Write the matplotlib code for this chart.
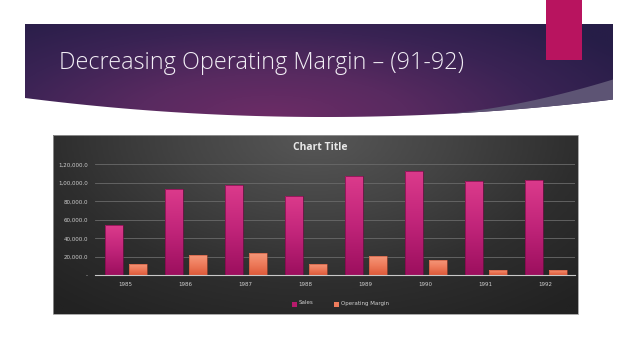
import numpy as np
import matplotlib.pyplot as plt
from matplotlib.patches import Polygon, Rectangle
from matplotlib.colors import LinearSegmentedColormap

# Chart data
years = ['1985', '1986', '1987', '1988', '1989', '1990', '1991', '1992']
sales = [54000, 93000, 97500, 85500, 107500, 113000, 102000, 103000]
operating_margin = [12300, 22300, 24300, 12300, 21000, 16500, 6100, 6100]
y_ticks = [0, 20000, 40000, 60000, 80000, 100000, 120000]
y_tick_labels = ['-', '20,000.0', '40,000.0', '60,000.0', '80,000.0', '1,00,000.0', '1,20,000.0']

W, H = 638, 359
fig = plt.figure(figsize=(W / 100, H / 100), dpi=100)
fig.patch.set_facecolor('white')

# Slide layer in pixel coordinates
bg = fig.add_axes([0, 0, 1, 1])
bg.set_xlim(0, W)
bg.set_ylim(H, 0)
bg.axis('off')

# Title banner with curved bottom
def outer(x):
    return 117 - 19 * ((x - 325) / 300.0) ** 2

xs = np.linspace(25, 613, 200)
banner = np.vstack([[[25, 24], [613, 24]], np.column_stack([xs[::-1], outer(xs[::-1])])])
banner_poly = Polygon(banner, closed=True, facecolor='none', edgecolor='none')
bg.add_patch(banner_poly)

gx, gy = np.meshgrid(np.linspace(0, 1, 300), np.linspace(0, 1, 100))
r = np.sqrt(((gx - 0.42) / 0.7) ** 2 + ((gy - 1.0) / 1.4) ** 2)
banner_cmap = LinearSegmentedColormap.from_list('ban', ['#6c2c66', '#582a60', '#3a2354', '#261d47'])
im = bg.imshow(np.clip(r, 0, 1), cmap=banner_cmap, extent=(25, 613, 118, 24),
               aspect='auto', zorder=1, interpolation='bilinear')
im.set_clip_path(banner_poly)

# grey swoosh at lower right
sx = np.linspace(440, 613, 100)
h = np.clip((sx - 440) / 173.0, 0, 1) ** 1.6 * 20
swoosh = np.vstack([np.column_stack([sx, outer(sx) - h]), np.column_stack([sx[::-1], outer(sx[::-1])])])
bg.add_patch(Polygon(swoosh, closed=True, facecolor='#5d5474', edgecolor='none', zorder=2))

# pink accent block
bg.add_patch(Rectangle((546, 0), 36, 60, facecolor='#b8145f', edgecolor='none', zorder=3))

bg.text(59, 63, 'Decreasing Operating Margin \u2013 (91-92)', color='#f2eef5',
        fontsize=16.8, family='Open Sans', fontweight='light', va='center', ha='left', zorder=4)

# Chart box gradient
box = Rectangle((53, 135), 525, 179, facecolor='none', edgecolor='#9a9a9a', linewidth=0.6, zorder=5)
bg.add_patch(box)
cx, cy = np.meshgrid(np.linspace(0, 1, 300), np.linspace(0, 1, 120))
rr = np.sqrt(((cx - 0.5) / 0.75) ** 2 + ((cy - 0.0) / 1.25) ** 2)
box_cmap = LinearSegmentedColormap.from_list('box', ['#575757', '#444444', '#2e2e2e', '#222222'])
bim = bg.imshow(np.clip(rr, 0, 1), cmap=box_cmap, extent=(53, 578, 314, 135),
                aspect='auto', zorder=4, interpolation='bilinear')
bim.set_clip_path(box)

bg.text(320, 148, 'Chart Title', color='#e8e8e8', fontsize=7.5, fontweight='bold',
        family='Open Sans', ha='center', va='center', zorder=6)

# Plot area
ax = fig.add_axes([95 / W, 1 - 275.3 / H, 480 / W, 111 / H])
ax.set_facecolor('none')
ax.set_zorder(6)
x = np.arange(len(years))
bw = 0.3
sales_cmap = LinearSegmentedColormap.from_list('s', ['#9c0f5e', '#c02479', '#dc3b8c'])
om_cmap = LinearSegmentedColormap.from_list('o', ['#de5a3a', '#ee7c5c', '#f59a7c'])
sb = ax.bar(x - 0.19, sales, bw, color='none', edgecolor='#7a0c48', linewidth=0.5, zorder=3)
ob = ax.bar(x + 0.21, operating_margin, bw, color='none', edgecolor='#c25035', linewidth=0.4, zorder=3)
grad = np.linspace(0, 1, 256).reshape(-1, 1)
for bars, cmap in [(sb, sales_cmap), (ob, om_cmap)]:
    for b in bars:
        x0, w, hgt = b.get_x(), b.get_width(), b.get_height()
        g = ax.imshow(grad, cmap=cmap, extent=(x0, x0 + w, 0, hgt), origin='lower',
                      aspect='auto', zorder=2, interpolation='bilinear')
        g.set_clip_path(b)

ax.set_xlim(-0.5, len(years) - 0.5)
ax.set_ylim(0, 120000)
ax.set_yticks(y_ticks)
ax.set_yticklabels(y_tick_labels)
ax.set_xticks(x)
ax.set_xticklabels(years)
ax.tick_params(axis='both', length=0, labelsize=4, labelcolor='#cfcfcf')
ax.tick_params(axis='x', pad=5)
ax.tick_params(axis='y', pad=5)
ax.grid(axis='y', color='#6a6a6a', linewidth=0.6, zorder=1)
for s in ['top', 'right', 'left']:
    ax.spines[s].set_visible(False)
ax.spines['bottom'].set_color('#c8c8c8')
ax.spines['bottom'].set_linewidth(0.8)

# Legend
bg.add_patch(Rectangle((292, 302), 5, 5, facecolor='#b81a6c', edgecolor='none', zorder=7))
bg.text(299, 303, 'Sales', color='#d0d0d0', fontsize=4, va='center', ha='left', zorder=7)
bg.add_patch(Rectangle((334, 302), 5, 5, facecolor='#ee7c5c', edgecolor='none', zorder=7))
bg.text(341, 303, 'Operating Margin', color='#d0d0d0', fontsize=4, va='center', ha='left', zorder=7)

fig.savefig('out.png', dpi=100)
